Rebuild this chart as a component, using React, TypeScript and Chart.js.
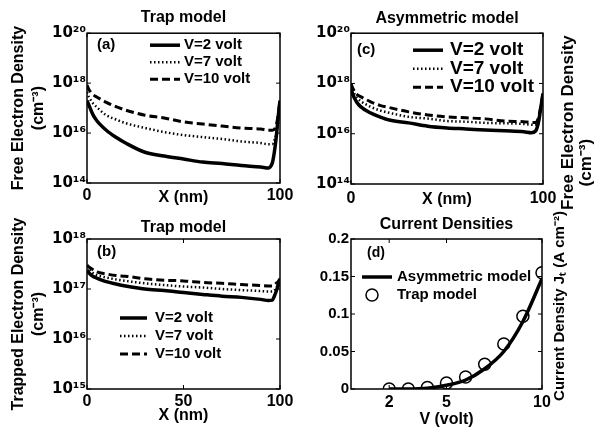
import { useEffect, useRef } from "react";
import { Chart, registerables } from "chart.js";

Chart.register(...registerables);

const FONT = "'Liberation Sans', Arial, Helvetica, sans-serif";
const SUP_FONT = "'DejaVu Sans', 'Liberation Sans', sans-serif";
const W = 596;
const H = 435;

// ---------- data ----------
const xNm = [0, 1, 3, 5, 10, 15, 20, 30, 40, 50, 60, 70, 80, 90, 94, 96, 97, 98, 99, 100];
const seriesLabels = ["V=2 volt", "V=7 volt", "V=10 volt"];

// (a) free electron density, trap model
const freeTrapV2 = [2.0e17, 1.3e17, 5.6e16, 3.2e16, 1.3e16, 6.8e15, 4.0e15, 1.7e15, 1.2e15, 9.1e14, 6.9e14, 6.0e14, 5.0e14, 4.4e14, 4.0e14, 6.3e14, 1.6e15, 6.3e15, 4.0e16, 2.0e17];
const freeTrapV7 = [4.4e17, 2.8e17, 1.6e17, 1.1e17, 5.2e16, 3.5e16, 2.5e16, 1.6e16, 1.1e16, 8.3e15, 6.9e15, 5.8e15, 4.6e15, 4.0e15, 3.6e15, 3.6e15, 5.0e15, 1.0e16, 4.0e16, 2.0e17];
const freeTrapV10 = [8.3e17, 5.6e17, 3.5e17, 2.8e17, 1.7e17, 1.15e17, 8.3e16, 5.2e16, 4.0e16, 2.8e16, 2.3e16, 1.9e16, 1.6e16, 1.45e16, 1.3e16, 1.3e16, 1.4e16, 2.0e16, 5.0e16, 2.0e17];

// (c) free electron density, asymmetric model
const freeAsymV2 = [6.3e17, 3.5e17, 1.8e17, 1.2e17, 6.8e16, 4.7e16, 3.5e16, 2.7e16, 2.0e16, 1.7e16, 1.55e16, 1.4e16, 1.3e16, 1.2e16, 1.1e16, 1.25e16, 1.8e16, 4.0e16, 1.3e17, 4.0e17];
const freeAsymV7 = [8.0e17, 5.0e17, 2.8e17, 2.0e17, 1.2e17, 8.5e16, 6.8e16, 4.7e16, 4.0e16, 3.2e16, 3.0e16, 2.7e16, 2.6e16, 2.45e16, 2.3e16, 2.3e16, 2.8e16, 5.0e16, 1.3e17, 4.0e17];
const freeAsymV10 = [1.0e18, 6.3e17, 3.7e17, 3.0e17, 1.9e17, 1.35e17, 1.1e17, 7.4e16, 5.6e16, 4.7e16, 4.3e16, 3.9e16, 3.2e16, 3.0e16, 2.8e16, 2.8e16, 3.2e16, 5.6e16, 1.4e17, 4.0e17];

// (b) trapped electron density, trap model
const trappedV2 = [2.4e17, 2.1e17, 1.8e17, 1.66e17, 1.4e17, 1.26e17, 1.15e17, 1.0e17, 9.3e16, 8.5e16, 7.8e16, 7.2e16, 6.8e16, 6.2e16, 5.9e16, 6.0e16, 7.1e16, 8.9e16, 1.17e17, 1.5e17];
const trappedV7 = [2.8e17, 2.5e17, 2.1e17, 1.9e17, 1.7e17, 1.55e17, 1.45e17, 1.3e17, 1.2e17, 1.12e17, 1.07e17, 1.0e17, 9.5e16, 9.1e16, 8.9e16, 8.9e16, 9.3e16, 1.05e17, 1.26e17, 1.6e17];
const trappedV10 = [3.0e17, 2.75e17, 2.45e17, 2.2e17, 2.0e17, 1.86e17, 1.8e17, 1.6e17, 1.5e17, 1.45e17, 1.35e17, 1.3e17, 1.23e17, 1.17e17, 1.15e17, 1.15e17, 1.2e17, 1.3e17, 1.4e17, 1.6e17];

// (d) current densities
const voltages = [2, 3, 4, 5, 6, 7, 8, 9, 10];
const currentAsym = [0, 0, 0.001, 0.005, 0.012, 0.027, 0.05, 0.09, 0.147];
const currentTrap = [0, 0, 0.002, 0.008, 0.016, 0.033, 0.06, 0.097, 0.155];

// ticks
const freeTicks = [1e14, 1e16, 1e18, 1e20];
const freeTickLabels = ["10¹⁴", "10¹⁶", "10¹⁸", "10²⁰"];
const trappedTicks = [1e15, 1e16, 1e17, 1e18];
const trappedTickLabels = ["10¹⁵", "10¹⁶", "10¹⁷", "10¹⁸"];
const xTicksTop = [0, 100];
const xTickLabelsTop = ["0", "100"];
const xTicksBottom = [0, 50, 100];
const xTickLabelsBottom = ["0", "50", "100"];
const currentTicks = [0, 0.05, 0.1, 0.15, 0.2];
const currentTickLabels = ["0", "0.05", "0.1", "0.15", "0.2"];
const voltTicks = [2, 5, 10];
const voltTickLabels = ["2", "5", "10"];

// ---------- helpers ----------
const bold = (size: number, lineHeight = 1.2, family = FONT) => ({ family, size, weight: "bold" as const, lineHeight });
const noGrid = { display: false, drawTicks: false, tickLength: 0 };

const fixedWidth = (w: number) => (s: any) => {
  s.width = w;
  s.paddingTop = 0; s.paddingBottom = 0; s.paddingLeft = 0; s.paddingRight = 0;
};
const fixedHeight = (h: number) => (s: any) => {
  s.height = h;
  s.paddingTop = 0; s.paddingBottom = 0; s.paddingLeft = 0; s.paddingRight = 0;
};
const useTicks = (values: number[]) => (s: any) => {
  s.ticks = values.map((v) => ({ value: v }));
};
const labelFor = (values: number[], labels: string[]) => (v: any) => {
  const n = Number(v);
  const i = values.findIndex((t) => Math.abs(t - n) <= Math.abs(t) * 1e-6 + 1e-9);
  return i >= 0 ? labels[i] : "";
};

const lineStyles = [
  { borderWidth: 3.5, borderDash: [] as number[] },
  { borderWidth: 2.5, borderDash: [1.5, 2.5] },
  { borderWidth: 3, borderDash: [8, 4] },
];

const densitySets = (series: number[][]) =>
  series.map((vals, i) => ({
    label: seriesLabels[i],
    data: xNm.map((x, j) => ({ x, y: vals[j] })),
    borderColor: "#000",
    backgroundColor: "#000",
    pointRadius: 0,
    fill: false,
    cubicInterpolationMode: "monotone" as const,
    ...lineStyles[i],
  }));

const extrasPlugin = {
  id: "extras",
  afterDraw(chart: any, _args: any, o: any) {
    const { ctx, chartArea: a } = chart;
    ctx.save();
    ctx.strokeStyle = "#000";
    ctx.fillStyle = "#000";
    ctx.setLineDash([]);
    // inward tick marks
    const xs = chart.scales.x;
    const ys = chart.scales.y;
    ctx.lineWidth = 1;
    ctx.beginPath();
    for (const t of xs.ticks) {
      const px = xs.getPixelForValue(t.value);
      ctx.moveTo(px, a.bottom); ctx.lineTo(px, a.bottom - 4);
      ctx.moveTo(px, a.top); ctx.lineTo(px, a.top + 4);
    }
    for (const t of ys.ticks) {
      const py = ys.getPixelForValue(t.value);
      ctx.moveTo(a.left, py); ctx.lineTo(a.left + 4, py);
      ctx.moveTo(a.right, py); ctx.lineTo(a.right - 4, py);
    }
    ctx.stroke();
    // frame
    ctx.lineWidth = 1.5;
    ctx.strokeRect(a.left, a.top, a.right - a.left, a.bottom - a.top);
    // panel tag
    ctx.textBaseline = "middle";
    ctx.textAlign = "left";
    ctx.font = `bold ${o.tag.size}px ${FONT}`;
    ctx.fillText(o.tag.text, a.left + o.tag.x, a.top + o.tag.y);
    // legend
    const L = o.legend;
    ctx.font = `bold ${L.size}px ${FONT}`;
    chart.data.datasets.forEach((ds: any, i: number) => {
      const y = a.top + L.y + i * L.dy;
      const x0 = a.left + L.x;
      if (ds.showLine === false) {
        ctx.setLineDash([]);
        ctx.lineWidth = ds.pointBorderWidth;
        ctx.beginPath();
        ctx.arc(x0 + L.circleX, y, ds.pointRadius, 0, Math.PI * 2);
        ctx.stroke();
      } else {
        ctx.setLineDash(ds.borderDash || []);
        ctx.lineWidth = ds.borderWidth;
        ctx.beginPath();
        ctx.moveTo(x0, y);
        ctx.lineTo(x0 + L.len, y);
        ctx.stroke();
        ctx.setLineDash([]);
      }
      ctx.fillText(ds.label, x0 + L.len + L.gap, y);
    });
    // right-side rotated axis titles (relative to the plot's right / vertical centre)
    for (const r of o.rightTitle || []) {
      ctx.save();
      ctx.font = `bold ${r.size}px ${FONT}`;
      ctx.translate(a.right + r.dx, (a.top + a.bottom) / 2 + r.dy);
      ctx.rotate(-Math.PI / 2);
      ctx.textAlign = "center";
      ctx.textBaseline = "middle";
      ctx.fillText(r.text, 0, 0);
      ctx.restore();
    }
    ctx.restore();
  },
};

// ---------- configs ----------
function configA(): any {
  return {
    type: "line",
    data: { datasets: densitySets([freeTrapV2, freeTrapV7, freeTrapV10]) },
    plugins: [extrasPlugin],
    options: {
      responsive: false,
      animation: false,
      layout: { padding: { left: 0, right: 316, top: 0, bottom: 218 } },
      plugins: {
        legend: { display: false },
        tooltip: { enabled: false },
        title: { display: true, text: "Trap model", fullSize: false, color: "#000", font: bold(16), padding: { top: 8, bottom: 6 } },
        extras: {
          tag: { text: "(a)", x: 10, y: 12, size: 15 },
          legend: { x: 63, y: 12, dy: 17, len: 30, gap: 4, size: 15, circleX: 10 },
        },
      },
      scales: {
        x: {
          type: "linear", min: 0, max: 100,
          grid: noGrid, border: { display: false },
          afterFit: fixedHeight(34), afterBuildTicks: useTicks(xTicksTop),
          ticks: { color: "#000", font: bold(16), padding: 3, maxRotation: 0, autoSkip: false, callback: labelFor(xTicksTop, xTickLabelsTop) },
          title: { display: true, text: "X (nm)", color: "#000", font: bold(16, 1.25), padding: { top: 0, bottom: 9 } },
        },
        y: {
          type: "logarithmic", min: 1e14, max: 1e20,
          grid: noGrid, border: { display: false },
          afterFit: fixedWidth(87), afterBuildTicks: useTicks(freeTicks),
          ticks: { color: "#000", font: bold(15, 1.2, SUP_FONT), padding: 1, autoSkip: false, callback: labelFor(freeTicks, freeTickLabels) },
          title: { display: true, text: ["Free Electron Density", "(cm⁻³)"], color: "#000", font: bold(16, 1.25), padding: { top: 9, bottom: 0 } },
        },
      },
    },
  };
}

function configC(): any {
  return {
    type: "line",
    data: { datasets: densitySets([freeAsymV2, freeAsymV7, freeAsymV10]) },
    plugins: [extrasPlugin],
    options: {
      responsive: false,
      animation: false,
      layout: { padding: { left: 298, right: 53, top: 0, bottom: 218 } },
      plugins: {
        legend: { display: false },
        tooltip: { enabled: false },
        title: { display: true, text: "Asymmetric model", fullSize: false, color: "#000", font: bold(16), padding: { top: 9, bottom: 5 } },
        extras: {
          tag: { text: "(c)", x: 6, y: 17, size: 15 },
          legend: { x: 62, y: 17, dy: 18.5, len: 30, gap: 7, size: 19, circleX: 10 },
          rightTitle: [
            { text: "Free Electron Density", dx: 25, dy: 14, size: 17 },
            { text: "(cm⁻³)", dx: 43, dy: 54, size: 17 },
          ],
        },
      },
      scales: {
        x: {
          type: "linear", min: 0, max: 100,
          grid: noGrid, border: { display: false },
          afterFit: fixedHeight(33), afterBuildTicks: useTicks(xTicksTop),
          ticks: { color: "#000", font: bold(16), padding: 5, maxRotation: 0, autoSkip: false, callback: labelFor(xTicksTop, xTickLabelsTop) },
          title: { display: true, text: "X (nm)", color: "#000", font: bold(16, 1.25), padding: { top: 0, bottom: 7 } },
        },
        y: {
          type: "logarithmic", min: 1e14, max: 1e20,
          grid: noGrid, border: { display: false },
          afterFit: fixedWidth(53), afterBuildTicks: useTicks(freeTicks),
          ticks: { color: "#000", font: bold(15, 1.2, SUP_FONT), padding: 1, autoSkip: false, callback: labelFor(freeTicks, freeTickLabels) },
        },
      },
    },
  };
}

function configB(): any {
  return {
    type: "line",
    data: { datasets: densitySets([trappedV2, trappedV7, trappedV10]) },
    plugins: [extrasPlugin],
    options: {
      responsive: false,
      animation: false,
      layout: { padding: { left: 0, right: 316, top: 217, bottom: 0 } },
      plugins: {
        legend: { display: false },
        tooltip: { enabled: false },
        title: { display: true, text: "Trap model", fullSize: false, color: "#000", font: bold(16), padding: { top: 1, bottom: 1.8 } },
        extras: {
          tag: { text: "(b)", x: 10, y: 13, size: 15 },
          legend: { x: 33, y: 79, dy: 18, len: 27, gap: 8, size: 15, circleX: 10 },
        },
      },
      scales: {
        x: {
          type: "linear", min: 0, max: 100,
          grid: noGrid, border: { display: false },
          afterFit: fixedHeight(46), afterBuildTicks: useTicks(xTicksBottom),
          ticks: { color: "#000", font: bold(16), padding: 3, maxRotation: 0, autoSkip: false, callback: labelFor(xTicksBottom, xTickLabelsBottom) },
          title: { display: true, text: "X (nm)", color: "#000", font: bold(16, 1.25), padding: { top: 0, bottom: 9 } },
        },
        y: {
          type: "logarithmic", min: 1e15, max: 1e18,
          grid: noGrid, border: { display: false },
          afterFit: fixedWidth(87), afterBuildTicks: useTicks(trappedTicks),
          ticks: { color: "#000", font: bold(15, 1.2, SUP_FONT), padding: 1, autoSkip: false, callback: labelFor(trappedTicks, trappedTickLabels) },
          title: { display: true, text: ["Trapped Electron Density", "(cm⁻³)"], color: "#000", font: bold(16, 1.25), padding: { top: 9, bottom: 0 } },
        },
      },
    },
  };
}

function configD(): any {
  return {
    type: "line",
    data: {
      datasets: [
        {
          label: "Asymmetric model",
          data: voltages.map((v, i) => ({ x: v, y: currentAsym[i] })),
          borderColor: "#000",
          backgroundColor: "#000",
          borderWidth: 3.5,
          borderDash: [],
          pointRadius: 0,
          fill: false,
          cubicInterpolationMode: "monotone",
        },
        {
          label: "Trap model",
          data: voltages.map((v, i) => ({ x: v, y: currentTrap[i] })),
          showLine: false,
          borderColor: "#000",
          backgroundColor: "rgba(0,0,0,0)",
          pointStyle: "circle",
          pointRadius: 6,
          pointBorderWidth: 1.5,
          pointBorderColor: "#000",
          pointBackgroundColor: "rgba(0,0,0,0)",
        },
      ],
    },
    plugins: [extrasPlugin],
    options: {
      responsive: false,
      animation: false,
      layout: { padding: { left: 298, right: 54, top: 217, bottom: 0 } },
      plugins: {
        legend: { display: false },
        tooltip: { enabled: false },
        title: { display: true, text: "Current Densities", fullSize: false, color: "#000", font: bold(16, 1), padding: { top: 0, bottom: 6 } },
        extras: {
          tag: { text: "(d)", x: 16, y: 14, size: 14 },
          legend: { x: 11, y: 38, dy: 18, len: 30, gap: 5, size: 15, circleX: 10 },
          rightTitle: [{ text: "Current Density Jₜ (A cm⁻²)", dx: 18, dy: -8, size: 15 }],
        },
      },
      scales: {
        x: {
          type: "linear", min: 0, max: 10,
          grid: noGrid, border: { display: false },
          afterFit: fixedHeight(46), afterBuildTicks: useTicks(voltTicks),
          ticks: { color: "#000", font: bold(16), padding: 4, maxRotation: 0, autoSkip: false, callback: labelFor(voltTicks, voltTickLabels) },
          title: { display: true, text: "V (volt)", color: "#000", font: bold(16, 1.25), padding: { top: 0, bottom: 5 } },
        },
        y: {
          type: "linear", min: 0, max: 0.2,
          grid: noGrid, border: { display: false },
          afterFit: fixedWidth(53), afterBuildTicks: useTicks(currentTicks),
          ticks: { color: "#000", font: bold(15), padding: 2, autoSkip: false, callback: labelFor(currentTicks, currentTickLabels) },
        },
      },
    },
  };
}

// ---------- components ----------
function Panel(props: { build: () => any }) {
  const ref = useRef<HTMLCanvasElement | null>(null);
  useEffect(() => {
    if (!ref.current) return;
    const chart = new Chart(ref.current, props.build());
    return () => chart.destroy();
  }, []);
  return (
    <canvas
      ref={ref}
      width={W}
      height={H}
      style={{ position: "absolute", left: 0, top: 0, width: W, height: H }}
    />
  );
}

export default function App() {
  return (
    <div style={{ position: "absolute", left: 0, top: 0, width: W, height: H, background: "#fff", overflow: "hidden" }}>
      <Panel build={configA} />
      <Panel build={configC} />
      <Panel build={configB} />
      <Panel build={configD} />
    </div>
  );
}
